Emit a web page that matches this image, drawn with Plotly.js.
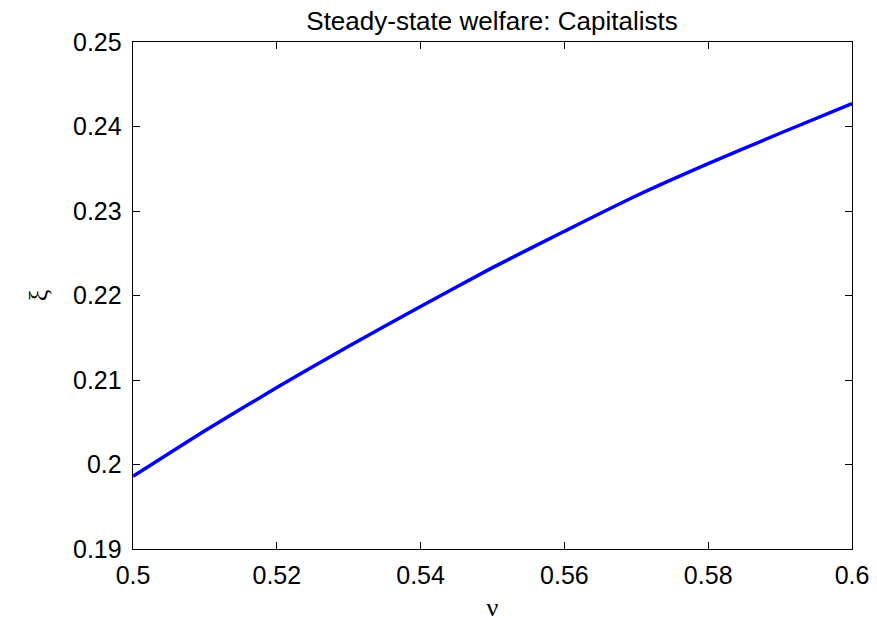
<!DOCTYPE html>
<html>
<head>
<meta charset="utf-8">
<script src="https://cdn.plot.ly/plotly-3.0.1.min.js"></script>
<style>html,body{margin:0;padding:0;background:#fff;}</style>
</head>
<body>
<div id="chart" style="width:877px;height:622px;"></div>
<script>
const nu = [0.50, 0.51, 0.52, 0.53, 0.54, 0.55, 0.56, 0.57, 0.58, 0.59, 0.60];
const xi = [0.1986, 0.2040, 0.2091, 0.2140, 0.2187, 0.2233, 0.2276, 0.2318, 0.2356, 0.2392, 0.2427];
const xTicks = [0.5, 0.52, 0.54, 0.56, 0.58, 0.6];
const xTickText = ["0.5", "0.52", "0.54", "0.56", "0.58", "0.6"];
const yTicks = [0.19, 0.2, 0.21, 0.22, 0.23, 0.24, 0.25];
const yTickText = ["0.19", "0.2", "0.21", "0.22", "0.23", "0.24", "0.25"];

const trace = {
  x: nu, y: xi, type: 'scatter', mode: 'lines',
  line: {color: '#0000ff', width: 3.5, shape: 'spline', smoothing: 0.6}, hoverinfo: 'skip'
};
const tickFont = {family: 'Liberation Sans, Arial, sans-serif', size: 25, color: '#000'};
const layout = {
  width: 877, height: 622,
  margin: {l: 133, r: 25, t: 42, b: 73},
  paper_bgcolor: '#fff', plot_bgcolor: '#fff',
  showlegend: false,
  title: {text: 'Steady-state welfare: Capitalists', font: {family: 'Liberation Sans, Arial, sans-serif', size: 26, color: '#000'},
          x: 0.561, xanchor: 'center', y: 0.966, yanchor: 'middle'},
  xaxis: {
    range: [0.5, 0.6], tickvals: xTicks, ticktext: xTickText,
    ticks: 'inside', ticklen: 7, tickwidth: 1, tickcolor: '#000',
    showline: true, linecolor: '#000', linewidth: 1.3, mirror: 'ticks',
    showgrid: false, zeroline: false, tickfont: tickFont, ticklabelstandoff: 4,
    title: {text: 'ν', font: {family: 'Liberation Serif, Times New Roman, serif', size: 26, color: '#000'}, standoff: 16}
  },
  yaxis: {
    range: [0.19, 0.25], tickvals: yTicks, ticktext: yTickText,
    ticks: 'inside', ticklen: 7, tickwidth: 1, tickcolor: '#000',
    showline: true, linecolor: '#000', linewidth: 1.3, mirror: 'ticks',
    showgrid: false, zeroline: false, tickfont: tickFont, ticklabelstandoff: 5,
    title: {text: 'ξ', font: {family: 'Liberation Serif, Times New Roman, serif', size: 26, color: '#000'}, standoff: 18}
  }
};
Plotly.newPlot('chart', [trace], layout, {displayModeBar: false, staticPlot: true});
</script>
</body>
</html>
